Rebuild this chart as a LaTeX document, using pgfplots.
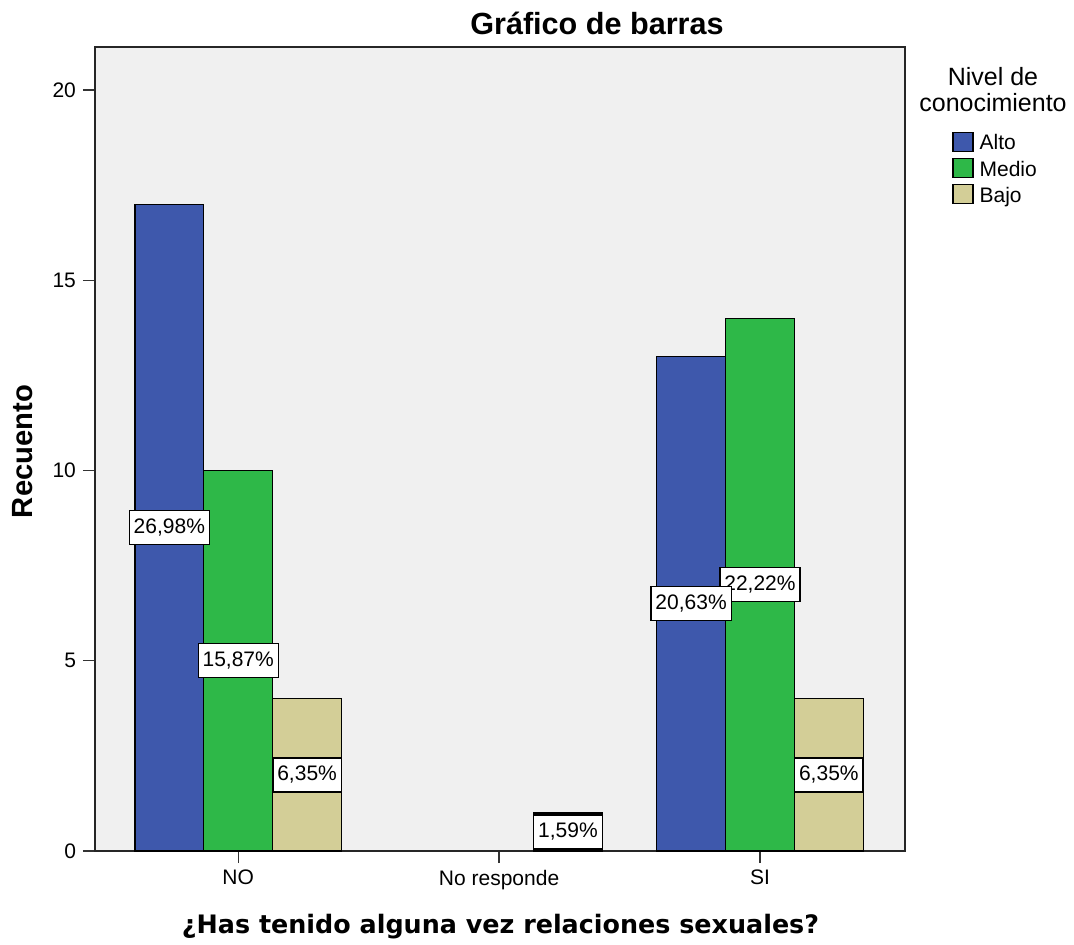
\documentclass[border=0pt]{standalone}
\usepackage{pgfplots}
\pgfplotsset{compat=1.18}
\usepackage{pgfplotstable}
\usepackage{fontspec}
\setmainfont{Liberation Sans}
\newfontfamily\dejavu{DejaVu Sans}

\definecolor{bgpanel}{HTML}{F0F0F0}
\definecolor{alto}{HTML}{3E58AC}
\definecolor{medio}{HTML}{2EB848}
\definecolor{bajo}{HTML}{D3CE97}

% counts per category (0 = NO, 1 = No responde, 2 = SI)
\pgfplotstableread{
x y lbl
0 17 {26,98\%}
2 13 {20,63\%}
}\alto
\pgfplotstableread{
x y lbl
0 10 {15,87\%}
2 14 {22,22\%}
}\medio
\pgfplotstableread{
x y lbl
0 4 {6,35\%}
1 1 {1,59\%}
2 4 {6,35\%}
}\bajo

\begin{document}
\begin{tikzpicture}
\useasboundingbox (-47.5pt,-46.5pt) rectangle (489.5pt,425.5pt);
\begin{axis}[
  at={(0,0)}, anchor=south west,
  scale only axis, width=405pt, height=402pt,
  xmin=-0.549, xmax=2.556,
  ymin=0, ymax=21.13,
  axis background/.style={fill=bgpanel},
  axis line style={black!85, line width=0.7pt},
  xtick={0,1,2},
  xticklabels={NO, No responde, SI},
  ytick={0,5,10,15,20},
  tick align=outside,
  major tick length=6pt,
  tick style={black!80, line width=0.7pt},
  xtick pos=bottom, ytick pos=left,
  ticklabel style={font=\fontsize{10.5}{12}\selectfont},
  /pgf/number format/assume math mode=true,
  legend cell align=left,
  legend image code/.code={\draw[#1] (0pt,-4.5pt) rectangle (10pt,5pt);},
  legend style={
    at={(axis description cs:1.058,0.895)}, anchor=north west,
    draw=none, fill=none, inner sep=0pt,
    font=\fontsize{10.5}{12}\selectfont,
    column sep=3pt, row sep=3pt,
    nodes={inner sep=0pt, text height=8.5pt, text depth=1pt},
  },
  every node near coord/.append style={
    anchor=center, fill=white, draw=black, line width=0.6pt,
    font=\fontsize{10.5}{12}\selectfont,
    inner xsep=2.2pt, inner ysep=0pt, minimum height=17pt,
  },
]
\addplot[ybar, bar width=0.264, bar shift=-0.264, fill=alto, draw=black, line width=0.6pt]
  table[x=x, y=y] {\alto};
\addlegendentry{Alto}
\addplot[ybar, bar width=0.264, bar shift=0, fill=medio, draw=black, line width=0.6pt]
  table[x=x, y=y] {\medio};
\addlegendentry{Medio}
\addplot[ybar, bar width=0.264, bar shift=0.264, fill=bajo, draw=black, line width=0.6pt]
  table[x=x, y=y] {\bajo};
\addlegendentry{Bajo}

% percentage boxes, centred half way up each bar
\addplot[forget plot, draw=none, mark=none, nodes near coords, point meta=explicit symbolic]
  table[x expr=\thisrow{x}, y expr=\thisrow{y}/2, meta=lbl] {\medio};
\addplot[forget plot, draw=none, mark=none, nodes near coords, point meta=explicit symbolic]
  table[x expr=\thisrow{x}-0.264, y expr=\thisrow{y}/2, meta=lbl] {\alto};
\addplot[forget plot, draw=none, mark=none, nodes near coords, point meta=explicit symbolic]
  table[x expr=\thisrow{x}+0.264, y expr=\thisrow{y}/2, meta=lbl] {\bajo};
\end{axis}

\node[anchor=base, font=\fontsize{15.3}{18}\selectfont\bfseries] at (251pt,408pt) {Gráfico de barras};
\node[anchor=base, font=\fontsize{12.7}{15}\selectfont\dejavu\bfseries] at (202.75pt,-41pt) {¿Has tenido alguna vez relaciones sexuales?};
\node[anchor=base, rotate=90, font=\fontsize{14.6}{17}\selectfont\bfseries] at (-31pt,199.75pt) {Recuento};
\node[align=center, font=\fontsize{12.5}{13}\selectfont] at (449pt,380.5pt) {Nivel de\\conocimiento};
\end{tikzpicture}
\end{document}
